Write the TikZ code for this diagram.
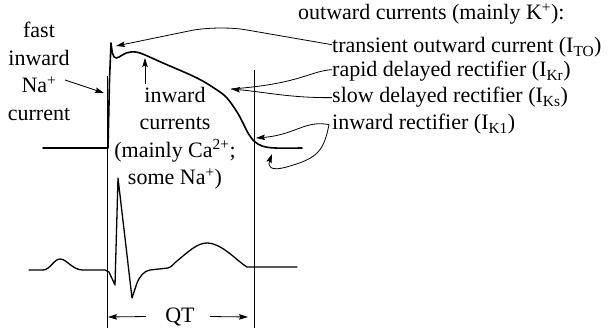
\documentclass[tikz,border=0pt]{standalone}
\usepackage{fontspec}
\setmainfont{Liberation Serif}
\usetikzlibrary{arrows.meta}
\begin{document}
\begin{tikzpicture}[x=1pt,y=-1pt,
  lbl/.style={font=\fontsize{22}{27.5}\selectfont, inner sep=0pt},
  conn/.style={line width=0.8pt},
  ptr/.style={conn, -{Stealth[length=9pt,width=5.5pt,inset=1.5pt]}},
  trace/.style={line width=1.6pt, line join=round, line cap=round},
  ecgline/.style={line width=1.3pt, line join=round, line cap=round},
  guide/.style={line width=0.7pt}]
\useasboundingbox (0,0) rectangle (609,331);

% texts
\node[lbl, anchor=base west] (out) at (298,20) {outward currents (mainly K\textsuperscript{+}):};
\node[lbl, anchor=base west] (ito) at (332,53) {transient outward current (I\textsubscript{TO})};
\node[lbl, anchor=base west] (ikr) at (332,77) {rapid delayed rectifier (I\textsubscript{Kr})};
\node[lbl, anchor=base west] (iks) at (332,103) {slow delayed rectifier (I\textsubscript{Ks})};
\node[lbl, anchor=base west] (ik1) at (332,130) {inward rectifier (I\textsubscript{K1})};
\node[lbl, align=center, anchor=north] (na) at (39,22) {fast\\inward\\Na\textsuperscript{+}\\current};
\node[lbl, align=center, anchor=north] (ca) at (175,87) {inward\\currents\\(mainly Ca\textsuperscript{2+};\\some Na\textsuperscript{+})};
\node[lbl, anchor=base] (qt) at (180,322) {QT};

% guide lines
\draw[guide] (107,76) -- (107,328);
\draw[guide] (254,70) -- (254,328);

% action potential
\draw[trace] (43,148) -- (108,148) -- (109.5,80) -- (111,43)
  .. controls (112,52) and (113,58) .. (116,58)
  .. controls (120,58) and (124,52) .. (131,52);
\draw[trace] plot[smooth, tension=0.55] coordinates {(131,52) (140,53) (163,63) (197,78) (217,90) (227,98) (237,112) (243,123) (248,133) (254,141) (262,146) (275,148) (302,148)};

% ECG
\draw[ecgline] (29,270) -- (43,270)
  .. controls (50,270) and (54,259) .. (60,259)
  .. controls (67,259) and (72,270) .. (83,270)
  -- (105,270) -- (109,272) -- (115,285) -- (118,178) -- (132,298) -- (137,283)
  .. controls (140,276) and (144,271) .. (150,270) -- (168,268)
  .. controls (172,267) and (174,263) .. (177,261)
  .. controls (188,252) and (197,243) .. (207,243)
  .. controls (222,243) and (238,262) .. (247,267) -- (297,267);

% targets
\coordinate (tipTO) at (116,46);
\coordinate (tipK) at (231,89);
\coordinate (tipK1) at (256,138);
\coordinate (tipK1b) at (272,154);
\coordinate (naStart) at (65,80);
\coordinate (tipNa) at (104,93);
\coordinate (caStart) at (145,84);
\coordinate (tipCa) at (145,58);
\coordinate (qtL) at (108,317);
\coordinate (qtR) at (248,317);

% connectors
\draw[ptr] (naStart) -- (tipNa);
\draw[ptr] (caStart) -- (tipCa);
\draw[ptr, rounded corners=28pt] ([yshift=3pt]ito.west) -- (218,25) -- (tipTO);
\draw[conn] ([yshift=2pt]ikr.west) .. controls (310,71) and (300,84) .. (tipK);
\draw[ptr] (iks.west) .. controls (290,98) and (265,92) .. (tipK);
\draw[ptr] ([xshift=-3pt]ik1.west) .. controls (305,120) and (295,135) .. (tipK1);
\draw[ptr] ([xshift=-3pt]ik1.west) .. controls (324,150) and (318,158) .. (290,166)
  .. controls (268,173) and (268,165) .. (tipK1b);
\draw[ptr] ([xshift=-19pt]qt.west) -- (qtL);
\draw[ptr] ([xshift=15pt]qt.east) -- (qtR);
\end{tikzpicture}
\end{document}
